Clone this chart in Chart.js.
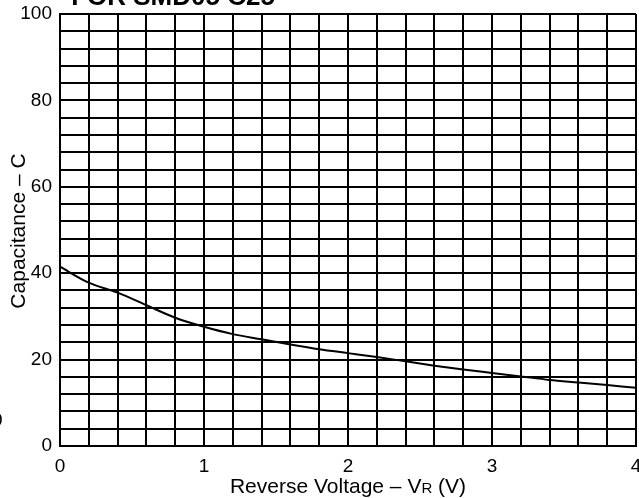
<!DOCTYPE html>
<html><head><meta charset="utf-8">
<script src="https://cdn.jsdelivr.net/npm/chart.js@4.4.1/dist/chart.umd.min.js"></script>
<style>html,body{margin:0;padding:0;background:#fff;}canvas{display:block;}</style>
</head><body>
<canvas id="c" width="639" height="498"></canvas>
<script>
const voltage = [0,0.2,0.4,0.6,0.8,1.0,1.2,1.4,1.6,1.8,2.0,2.2,2.4,2.6,2.8,3.0,3.2,3.4,3.6,3.8,4.0];
const capacitance = [41.5,37.8,35.5,32.6,29.7,27.6,25.9,24.7,23.5,22.4,21.5,20.6,19.6,18.6,17.7,16.9,16.1,15.3,14.7,14.1,13.5];
const titleText = 'FOR SMD05 C25';
const xTitle = ['Reverse Voltage – V', 'R', ' (V)'];
const yTitle = 'Capacitance – C';
const FONT = '"Liberation Sans", Arial, sans-serif';

const textPlugin = {
  id: 'texts',
  afterDraw(chart) {
    const ctx = chart.ctx;
    ctx.save();
    ctx.fillStyle = '#000';
    ctx.font = 'bold 26px ' + FONT;
    ctx.textAlign = 'center';
    ctx.textBaseline = 'alphabetic';
    ctx.fillText(titleText, 173, 5);
    ctx.font = '19px ' + FONT;
    ctx.textAlign = 'left';
    ctx.textBaseline = 'middle';
    ctx.fillText('0', -8, 421);
    const f1 = '21px ' + FONT, f2 = '15px ' + FONT;
    ctx.font = f1; const w1 = ctx.measureText(xTitle[0]).width;
    ctx.font = f2; const w2 = ctx.measureText(xTitle[1]).width;
    ctx.font = f1; const w3 = ctx.measureText(xTitle[2]).width;
    const cx = 348;
    let x = cx - (w1 + w2 + w3) / 2;
    const by = 493;
    ctx.textAlign = 'left';
    ctx.textBaseline = 'alphabetic';
    ctx.font = f1; ctx.fillText(xTitle[0], x, by); x += w1;
    ctx.font = f2; ctx.fillText(xTitle[1], x, by); x += w2;
    ctx.font = f1; ctx.fillText(xTitle[2], x, by);
    ctx.translate(19, 231);
    ctx.rotate(-Math.PI / 2);
    ctx.font = f1;
    ctx.textAlign = 'center';
    ctx.textBaseline = 'middle';
    ctx.fillText(yTitle, 0, 0);
    ctx.restore();
  }
};

new Chart(document.getElementById('c'), {
  type: 'line',
  data: {
    datasets: [{
      data: voltage.map((v, i) => ({x: v, y: capacitance[i]})),
      borderColor: '#000',
      borderWidth: 2,
      pointRadius: 0,
      fill: false,
      cubicInterpolationMode: 'monotone'
    }]
  },
  options: {
    responsive: false,
    animation: false,
    layout: {padding: {top: 14, right: 3, left: 0, bottom: 0}},
    plugins: {legend: {display: false}, tooltip: {enabled: false}, title: {display: false}},
    scales: {
      x: {
        type: 'linear', min: 0, max: 4,
        afterFit(s) { s.height = 52; s.paddingLeft = 0; s.paddingRight = 0; },
        grid: {color: '#000', lineWidth: 2, drawTicks: false},
        border: {color: '#000', width: 2},
        ticks: {
          stepSize: 0.2, autoSkip: false, maxRotation: 0, padding: 9,
          color: '#000', font: {family: FONT, size: 19},
          callback(v) { return Math.abs(v - Math.round(v)) < 1e-6 ? String(Math.round(v)) : ''; }
        }
      },
      y: {
        type: 'linear', min: 0, max: 100,
        afterFit(s) { s.width = 60; s.paddingTop = 0; s.paddingBottom = 0; },
        grid: {color: '#000', lineWidth: 2, drawTicks: false},
        border: {color: '#000', width: 2},
        ticks: {
          stepSize: 4, autoSkip: false, maxTicksLimit: 100, padding: 8,
          color: '#000', font: {family: FONT, size: 19},
          callback(v) { return v % 20 === 0 ? String(v) : ''; }
        }
      }
    }
  },
  plugins: [textPlugin]
});
</script>
</body></html>
